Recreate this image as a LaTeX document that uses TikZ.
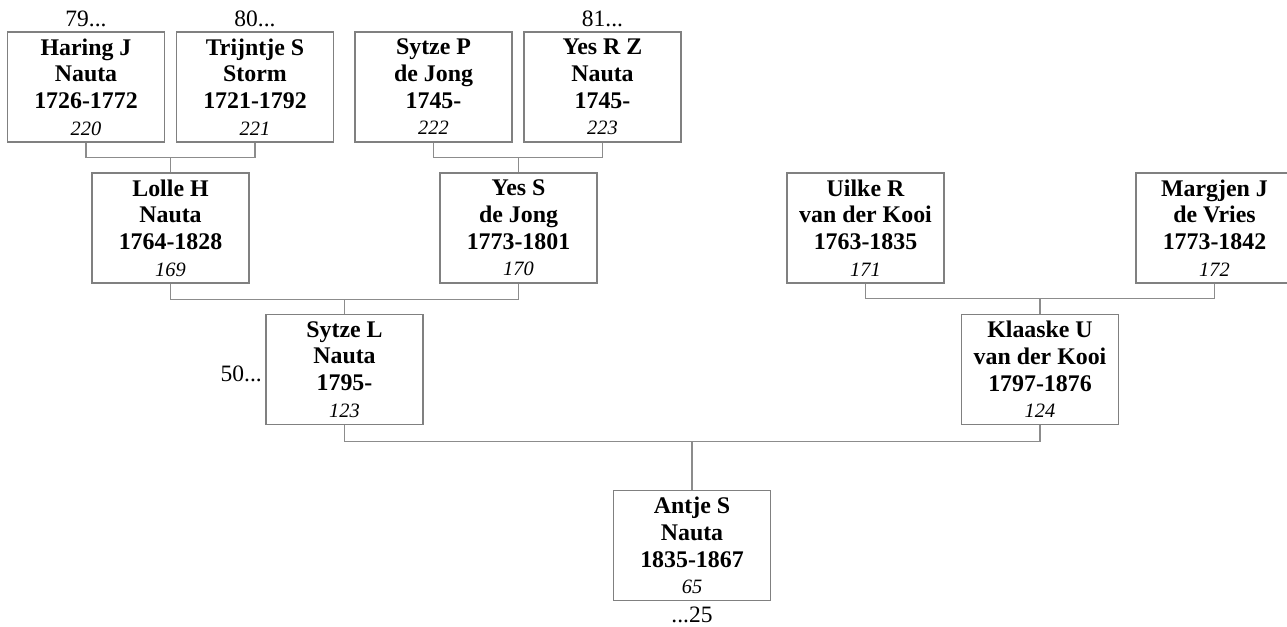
\documentclass[tikz,border=0pt]{standalone}
\usepackage{fontspec}
\setmainfont{Liberation Serif}
\usepackage{tikz}
\usetikzlibrary{positioning}
\definecolor{boxgrey}{HTML}{808080}
\definecolor{linkgrey}{HTML}{8C8C8C}
\newcommand{\pnum}[1]{{\mdseries\itshape\fontsize{15.3}{20}\selectfont #1}}
\tikzset{
  person/.style = {draw=boxgrey, line width=0.9pt, fill=white, minimum width=117.75pt,
                   minimum height=82.5pt, inner sep=0pt, align=center,
                   font=\bfseries\fontsize{17.9}{20}\selectfont},
  link/.style   = {draw=linkgrey, line width=0.8pt},
  ref/.style    = {font=\fontsize{17.6}{20}\selectfont, inner sep=1.5pt},
}
\begin{document}
\begin{tikzpicture}[x=0.75pt,y=-0.75pt]
  \useasboundingbox (0,0) rectangle (1287,626);
  % generation 4
  \node[person] (haring)   at (86,87)    {Haring J\\Nauta\\1726-1772\\\pnum{220}};
  \node[person] (trijntje) at (255,87)   {Trijntje S\\Storm\\1721-1792\\\pnum{221}};
  \node[person] (sytzep)   at (433.5,87) {Sytze P\\de Jong\\1745-\\\pnum{222}};
  \node[person] (yesrz)    at (602.5,87) {Yes R Z\\Nauta\\1745-\\\pnum{223}};
  % generation 3
  \node[person] (lolle)    at (170.5,228)  {Lolle H\\Nauta\\1764-1828\\\pnum{169}};
  \node[person] (yess)     at (518.5,228)  {Yes S\\de Jong\\1773-1801\\\pnum{170}};
  \node[person] (uilke)    at (865.5,228)  {Uilke R\\van der Kooi\\1763-1835\\\pnum{171}};
  \node[person] (margjen)  at (1214.5,228) {Margjen J\\de Vries\\1773-1842\\\pnum{172}};
  % generation 2
  \node[person] (sytzel)   at (344.5,369.5) {Sytze L\\Nauta\\1795-\\\pnum{123}};
  \node[person] (klaaske)  at (1040,369.5)  {Klaaske U\\van der Kooi\\1797-1876\\\pnum{124}};
  % generation 1
  \node[person] (antje)    at (692,545.5) {Antje S\\Nauta\\1835-1867\\\pnum{65}};
  % continuation marks
  \node[ref, above=2pt of haring]  (r79) {79...};
  \node[ref, above=2pt of trijntje] (r80) {80...};
  \node[ref, above=2pt of yesrz]   (r81) {81...};
  \node[ref, left=1pt of sytzel, yshift=-3pt] (r50) {50...};
  \node[ref, below=3pt of antje]   (r25) {...25};
  % parent links
  \draw[link] (haring.south) -- ++(0,15) coordinate (bar1) -| (trijntje.south);
  \draw[link] (lolle.north) -- (lolle.north |- bar1);
  \draw[link] (sytzep.south) -- ++(0,15) coordinate (bar2) -| (yesrz.south);
  \draw[link] (yess.north) -- (yess.north |- bar2);
  \draw[link] (lolle.south) -- ++(0,16) coordinate (bar3) -| (yess.south);
  \draw[link] (sytzel.north) -- (sytzel.north |- bar3);
  \draw[link] (uilke.south) -- ++(0,15) coordinate (bar4) -| (margjen.south);
  \draw[link] (klaaske.north) -- (klaaske.north |- bar4);
  \draw[link] (sytzel.south) -- ++(0,16) coordinate (bar5) -| (klaaske.south);
  \draw[link] (antje.north) -- (antje.north |- bar5);
\end{tikzpicture}
\end{document}
